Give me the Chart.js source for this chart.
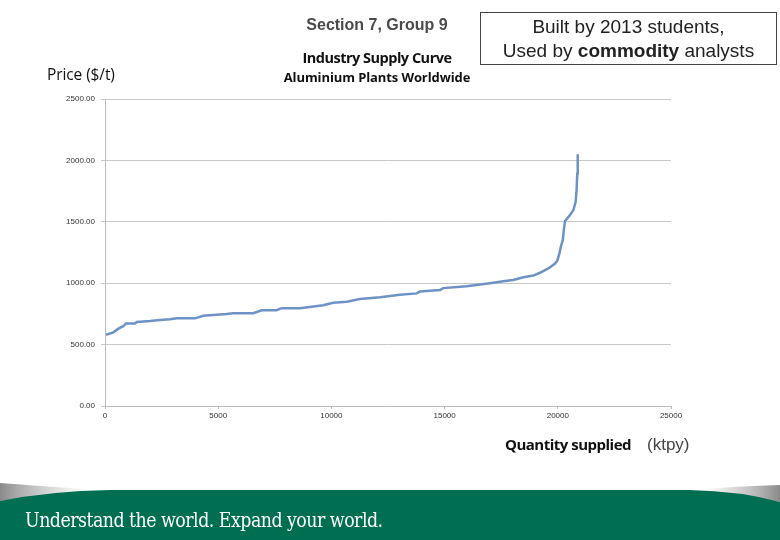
<!DOCTYPE html>
<html>
<head>
<meta charset="utf-8">
<script src="https://cdn.jsdelivr.net/npm/chart.js@4"></script>
<style>
  html,body{margin:0;padding:0;background:#fff;}
  #wrap{position:relative;width:780px;height:540px;overflow:hidden;}
  #c{position:absolute;left:0;top:0;}
  .t{position:absolute;white-space:nowrap;}
</style>
</head>
<body>
<div id="wrap">
  <canvas id="c" width="780" height="540"></canvas>
  <div class="t" style="left:257px;width:240px;top:16px;text-align:center;font:bold 16px 'Liberation Sans',Arial,sans-serif;color:#4a4a4a;">Section 7, Group 9</div>
  <div class="t" style="left:257px;width:240px;top:48px;text-align:center;font:bold 14.5px 'Open Sans','Noto Sans',sans-serif;color:#111;letter-spacing:-0.5px;">Industry Supply Curve</div>
  <div class="t" style="left:257px;width:240px;top:68px;text-align:center;font:bold 13px 'Open Sans','Noto Sans',sans-serif;color:#111;letter-spacing:-0.1px;">Aluminium Plants Worldwide</div>
  <div class="t" style="left:47px;top:63px;font:15.5px 'Open Sans','Noto Sans',sans-serif;color:#111;letter-spacing:-0.1px;">Price ($/t)</div>
  <div class="t" style="left:480px;top:12px;width:297px;height:53px;border:1px solid #444;box-sizing:border-box;text-align:center;font:19px 'Liberation Sans',Arial,sans-serif;color:#222;line-height:24px;padding-top:2px;">Built by 2013 students,<br>Used by <b>commodity</b> analysts</div>
  <div class="t" style="left:505px;top:434px;font:bold 15px 'Open Sans','Noto Sans',sans-serif;color:#111;letter-spacing:-0.5px;">Quantity supplied</div>
  <div class="t" style="left:647px;top:435px;font:17px 'Liberation Sans',Arial,sans-serif;color:#444;">(ktpy)</div>
  <svg class="t" style="left:0;top:470px;" width="780" height="70" viewBox="0 470 780 70">
    <defs>
      <linearGradient id="gl" x1="0" y1="0" x2="1" y2="0">
        <stop offset="0" stop-color="#8a8a8a"/>
        <stop offset="0.6" stop-color="#d0d0d0" stop-opacity="0.6"/>
        <stop offset="1" stop-color="#fff" stop-opacity="0"/>
      </linearGradient>
      <linearGradient id="gr" x1="1" y1="0" x2="0" y2="0">
        <stop offset="0" stop-color="#8a8a8a"/>
        <stop offset="0.6" stop-color="#d0d0d0" stop-opacity="0.6"/>
        <stop offset="1" stop-color="#fff" stop-opacity="0"/>
      </linearGradient>
    </defs>
    <path d="M0,483 Q40,486 100,490 L0,501 Z" fill="url(#gl)"/>
    <path d="M780,485 Q740,486 690,490 L780,502 Z" fill="url(#gr)"/>
    <path d="M0,501 Q50,491 110,490 L690,490 Q740,491 780,502 L780,540 L0,540 Z" fill="#006e51"/>
  </svg>
  <div class="t" style="left:25px;top:508px;font:20px 'DejaVu Serif','Liberation Serif',serif;color:#fff;letter-spacing:-0.6px;transform:scaleX(0.87);transform-origin:left top;">Understand the world. Expand your world.</div>
</div>
<script>
const quantity = [50, 370, 590, 810, 930, 1325, 1400, 1990, 2430, 2870, 3170, 3975, 4340, 5375, 5660, 6550, 6920, 7580, 7800, 8610, 9640, 10080, 10680, 11260, 12150, 13030, 13770, 13910, 14800, 14940, 15970, 17000, 17590, 18030, 18480, 18920, 19210, 19580, 19880, 19980, 20070, 20130, 20220, 20270, 20320, 20540, 20690, 20790, 20830, 20860, 20880];
const price = [580, 600, 630, 650, 672, 672, 684, 692, 700, 706, 714, 714, 735, 749, 755, 755, 780, 780, 797, 797, 820, 840, 849, 872, 885, 905, 917, 932, 945, 960, 975, 1000, 1015, 1026, 1048, 1062, 1085, 1120, 1160, 1185, 1240, 1295, 1350, 1440, 1506, 1555, 1596, 1664, 1759, 1894, 2050];
const yTicks = [0, 500, 1000, 1500, 2000, 2500];
const xTicks = [0, 5000, 10000, 15000, 20000, 25000];

const points = quantity.map((q, i) => ({x: q, y: price[i]}));

new Chart(document.getElementById('c'), {
  type: 'scatter',
  data: {
    datasets: [{
      data: points,
      showLine: true,
      borderColor: '#6d93c6',
      borderWidth: 2.5,
      pointRadius: 0,
      tension: 0
    }]
  },
  options: {
    responsive: false,
    animation: false,
    events: [],
    layout: {padding: {left: 0, top: 99, right: 109, bottom: 114}},
    plugins: {legend: {display: false}, tooltip: {enabled: false}},
    scales: {
      x: {
        type: 'linear', min: 0, max: 25000,
        afterBuildTicks: s => { s.ticks = xTicks.map(v => ({value: v})); },
        afterFit: s => { s.height = 20; },
        grid: {display: true, drawOnChartArea: false, drawTicks: true, tickLength: 3, color: '#bbb'},
        border: {color: '#bbb'},
        ticks: {color: '#333', font: {size: 8, family: 'Liberation Sans, Arial'}, padding: 2, maxRotation: 0,
                callback: v => String(v)}
      },
      y: {
        min: 0, max: 2500,
        afterBuildTicks: s => { s.ticks = yTicks.map(v => ({value: v})); },
        afterFit: s => { s.width = 105; },
        grid: {color: '#c8c8c8', lineWidth: 1, tickLength: 4},
        border: {color: '#bbb'},
        ticks: {color: '#333', font: {size: 8, family: 'Liberation Sans, Arial'}, padding: 6,
                callback: v => Number(v).toFixed(2)}
      }
    }
  }
});
</script>
</body>
</html>
